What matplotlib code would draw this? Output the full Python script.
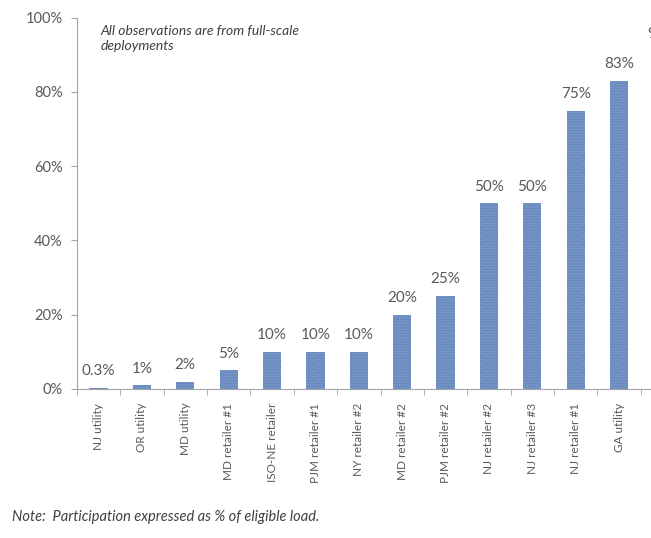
import matplotlib
matplotlib.use("Agg")
import matplotlib.pyplot as plt
import numpy as np

plt.rcParams['font.family'] = ['Lato', 'DejaVu Sans']
plt.rcParams['hatch.color'] = '#5B7DB3'
plt.rcParams['hatch.linewidth'] = 0.6

categories = ["NJ utility", "OR utility", "MD utility", "MD retailer #1", "ISO-NE retailer",
              "PJM retailer #1", "NY retailer #2", "MD retailer #2", "PJM retailer #2",
              "NJ retailer #2", "NJ retailer #3", "NJ retailer #1", "GA utility", ""]
values = [0.3, 1, 2, 5, 10, 10, 10, 20, 25, 50, 50, 75, 83, 91]
labels = ["0.3%", "1%", "2%", "5%", "10%", "10%", "10%", "20%", "25%",
          "50%", "50%", "75%", "83%", "91%"]

gray = '#595959'
fig = plt.figure(figsize=(6.51, 5.38), dpi=100)
ax = fig.add_axes([0.118, 0.277, 0.933, 0.69])

x = np.arange(len(categories))
bars = ax.bar(x, values, width=0.42, color='#7595C6', hatch='......', linewidth=0)

for xi, v, lab in zip(x, values, labels):
    ax.annotate(lab, (xi, v), xytext=(0, 7), textcoords='offset points',
                ha='center', va='bottom', fontsize=11, color=gray)

ax.set_xlim(-0.5, len(categories) - 0.5)
ax.set_ylim(0, 100)
ax.set_yticks([0, 20, 40, 60, 80, 100])
ax.set_yticklabels(["0%", "20%", "40%", "60%", "80%", "100%"], fontsize=10.5, color=gray)
ax.set_xticks(x)
ax.set_xticklabels(categories, rotation=90, fontsize=8.5, color=gray)
ax.set_xticks(np.arange(len(categories) + 1) - 0.5, minor=True)
ax.tick_params(axis='x', which='major', length=0, pad=10)
ax.tick_params(axis='x', which='minor', length=4, color='#A6A6A6')
ax.tick_params(axis='y', length=4, color='#A6A6A6', pad=6)

for s in ['top', 'right']:
    ax.spines[s].set_visible(False)
for s in ['left', 'bottom']:
    ax.spines[s].set_color('#A6A6A6')

ax.text(0.05, 98, "All observations are from full-scale\ndeployments", fontsize=10,
        style='italic', color='#404040', va='top', ha='left', linespacing=1.3)

fig.text(0.018, 0.032, "Note:  Participation expressed as % of eligible load.",
         fontsize=10.5, style='italic', color='#404040')

fig.savefig("out.png", dpi=100)
